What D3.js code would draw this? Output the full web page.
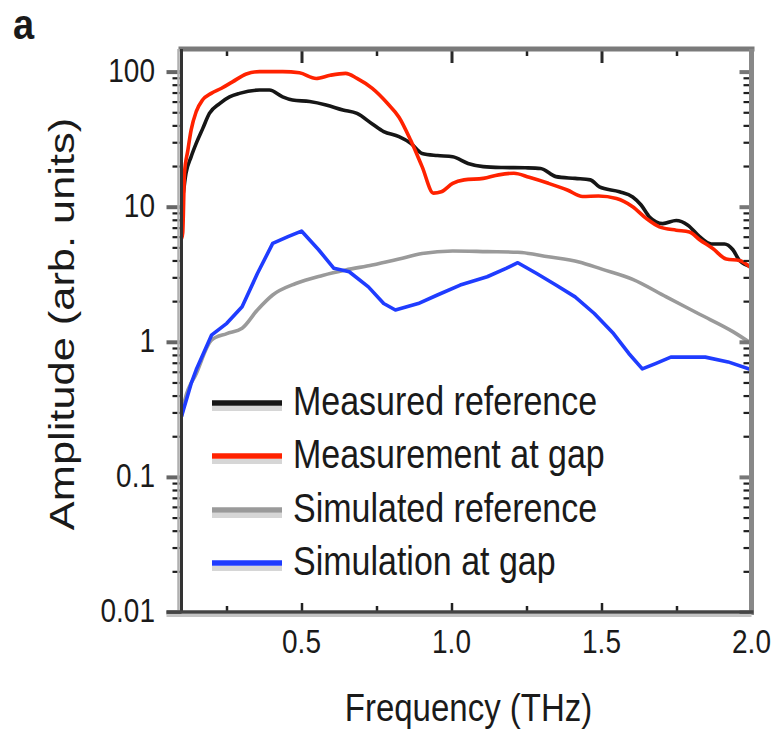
<!DOCTYPE html>
<html>
<head>
<meta charset="utf-8">
<script src="https://cdn.jsdelivr.net/npm/d3@7"></script>
<style>
  html, body { margin: 0; padding: 0; background: #fff; }
  svg { display: block; }
  text { font-family: "Liberation Sans", Arial, sans-serif; fill: #1a1a1a; }
</style>
</head>
<body>
<svg id="chart" width="774" height="734"></svg>
<script>
// Frequency (THz) and amplitude (arb. units) for each spectrum
const freqMeasRef = [0.10, 0.104, 0.115, 0.132, 0.149, 0.171, 0.193, 0.227, 0.26, 0.293, 0.36, 0.393, 0.437, 0.47, 0.527, 0.582, 0.638, 0.685, 0.736, 0.774, 0.825, 0.864, 0.902, 0.953, 1.004, 1.055, 1.106, 1.17, 1.246, 1.297, 1.348, 1.412, 1.463, 1.493, 1.56, 1.604, 1.632, 1.66, 1.704, 1.749, 1.788, 1.827, 1.866, 1.91, 1.938, 1.96, 2.0];
const ampMeasRef  = [10.5, 11.8, 17.7, 23.4, 29.4, 38, 49, 58, 65, 69, 73, 73, 65, 61.6, 60, 56.6, 52, 49, 41, 36, 33, 29.5, 24.8, 23.9, 23.4, 20.9, 19.8, 19.5, 19.4, 19.2, 16.7, 16.2, 15.8, 14, 12.9, 11.8, 10.3, 8.4, 7.5, 7.9, 7.3, 6.0, 5.3, 5.3, 4.8, 4.0, 3.6];

const freqMeasGap = [0.10, 0.104, 0.11, 0.121, 0.132, 0.149, 0.17, 0.199, 0.232, 0.27, 0.316, 0.36, 0.437, 0.493, 0.549, 0.596, 0.647, 0.685, 0.736, 0.787, 0.825, 0.864, 0.902, 0.94, 0.966, 1.004, 1.042, 1.106, 1.157, 1.208, 1.259, 1.323, 1.386, 1.437, 1.49, 1.55, 1.604, 1.649, 1.693, 1.749, 1.793, 1.827, 1.871, 1.916, 1.96, 2.0];
const ampMeasGap  = [5.8, 6.4, 17.7, 26, 36.9, 50.5, 61.6, 69, 75, 84, 96, 100, 100, 98, 89, 94, 97, 89, 75, 58, 46, 31, 19.8, 12.6, 12.9, 14.9, 15.8, 16.2, 17.2, 17.7, 16.5, 14.9, 13.3, 11.9, 12.0, 11.5, 10, 8.2, 7.1, 6.7, 6.5, 5.7, 4.9, 4.1, 4.0, 3.5];

const freqSimRef = [0.10, 0.111, 0.149, 0.2, 0.251, 0.302, 0.353, 0.404, 0.481, 0.57, 0.647, 0.736, 0.825, 0.902, 1.004, 1.119, 1.221, 1.323, 1.425, 1.501, 1.604, 1.716, 1.827, 1.938, 2.0];
const ampSimRef  = [0.28, 0.37, 0.58, 1.03, 1.15, 1.26, 1.72, 2.22, 2.7, 3.1, 3.4, 3.7, 4.1, 4.5, 4.7, 4.65, 4.6, 4.26, 3.9, 3.45, 2.9, 2.15, 1.6, 1.19, 0.97];

const freqSimGap = [0.10, 0.132, 0.149, 0.2, 0.251, 0.302, 0.353, 0.404, 0.455, 0.5, 0.557, 0.608, 0.659, 0.723, 0.774, 0.813, 0.889, 0.953, 1.029, 1.119, 1.182, 1.221, 1.284, 1.348, 1.412, 1.476, 1.54, 1.591, 1.636, 1.68, 1.731, 1.846, 1.922, 2.0];
const ampSimGap  = [0.28, 0.49, 0.62, 1.12, 1.37, 1.82, 3.2, 5.35, 6.0, 6.6, 4.8, 3.5, 3.3, 2.55, 1.92, 1.72, 1.92, 2.22, 2.63, 3.03, 3.5, 3.85, 3.2, 2.63, 2.15, 1.62, 1.15, 0.82, 0.63, 0.69, 0.77, 0.77, 0.71, 0.62];

const seriesNames  = ["Measured reference", "Measurement at gap", "Simulated reference", "Simulation at gap"];
const seriesColors = ["#161616", "#ff2200", "#9a9a9a", "#1f3cff"];

const xTickValues = [0.5, 1.0, 1.5, 2.0];
const xTickLabels = ["0.5", "1.0", "1.5", "2.0"];
const xMinorTicks = [0.25, 0.75, 1.25, 1.75];
const yTickValues = [100, 10, 1, 0.1, 0.01];
const yTickLabels = ["100", "10", "1", "0.1", "0.01"];

// ---------------------------------------------------------------
const svg = d3.select("#chart");
const plotLeft = 181.5, plotRight = 751.5, plotTop = 49, plotBottom = 612;
const SY = 1.18; // vertical stretch of lettering

const x = d3.scaleLinear().domain([0.1, 2.0]).range([plotLeft, plotRight]);
const y = d3.scaleLog().domain([0.01, 147]).range([plotBottom, plotTop]);

const yMinor = [];
for (let e = -2; e < 2; e++) for (let k = 2; k <= 9; k++) yMinor.push(k * Math.pow(10, e));

function stretchedText(px, py, str, size, anchor, sy) {
  const g = svg.append("g").attr("transform", `translate(${px},${py}) scale(1,${sy || SY})`);
  return g.append("text").attr("text-anchor", anchor).style("font-size", size + "px").text(str);
}

// clip for the curves
svg.append("defs").append("clipPath").attr("id", "plotclip")
  .append("rect").attr("x", plotLeft).attr("y", plotTop)
  .attr("width", plotRight - plotLeft).attr("height", plotBottom - plotTop);

// curves: simulated first, measured on top
const order = [2, 3, 0, 1];
const freqs = [freqMeasRef, freqMeasGap, freqSimRef, freqSimGap];
const amps  = [ampMeasRef, ampMeasGap, ampSimRef, ampSimGap];
const curves = [d3.curveMonotoneX, d3.curveMonotoneX, d3.curveMonotoneX, d3.curveLinear];
const plot = svg.append("g").attr("clip-path", "url(#plotclip)");
order.forEach(i => {
  const pts = freqs[i].map((f, j) => [f, amps[i][j]]);
  plot.append("path")
    .attr("d", d3.line().x(d => x(d[0])).y(d => y(d[1])).curve(curves[i])(pts))
    .attr("fill", "none")
    .attr("stroke", seriesColors[i])
    .attr("stroke-width", 3.6)
    .attr("stroke-linejoin", "round");
});

// ticks via d3 axes
function styleAxis(g, color, width) {
  g.select(".domain").remove();
  g.selectAll(".tick line").attr("stroke", color).attr("stroke-width", width);
  g.selectAll(".tick text").remove();
}
// left: outward
svg.append("g").attr("transform", `translate(${plotLeft},0)`)
  .call(d3.axisLeft(y).tickValues(yMinor).tickSize(9).tickFormat(""))
  .call(g => styleAxis(g, "#1e1e1e", 2.2));
svg.append("g").attr("transform", `translate(${plotLeft},0)`)
  .call(d3.axisLeft(y).tickValues(yTickValues).tickSize(15).tickFormat(""))
  .call(g => styleAxis(g, "#666", 4));
// right: inward
svg.append("g").attr("transform", `translate(${plotRight},0)`)
  .call(d3.axisLeft(y).tickValues(yMinor).tickSize(8).tickFormat(""))
  .call(g => styleAxis(g, "#1e1e1e", 2.2));
svg.append("g").attr("transform", `translate(${plotRight},0)`)
  .call(d3.axisLeft(y).tickValues(yTickValues).tickSize(12).tickFormat(""))
  .call(g => styleAxis(g, "#777", 4));
// top: inward
svg.append("g").attr("transform", `translate(0,${plotTop})`)
  .call(d3.axisBottom(x).tickValues(xMinorTicks).tickSize(7).tickFormat(""))
  .call(g => styleAxis(g, "#222", 2.5));
svg.append("g").attr("transform", `translate(0,${plotTop})`)
  .call(d3.axisBottom(x).tickValues(xTickValues.slice(0, 3)).tickSize(14).tickFormat(""))
  .call(g => styleAxis(g, "#2a2a2a", 3));
// bottom: inward
svg.append("g").attr("transform", `translate(0,${plotBottom})`)
  .call(d3.axisTop(x).tickValues(xMinorTicks).tickSize(6).tickFormat(""))
  .call(g => styleAxis(g, "#222", 2.5));
svg.append("g").attr("transform", `translate(0,${plotBottom})`)
  .call(d3.axisTop(x).tickValues(xTickValues.slice(0, 3)).tickSize(9).tickFormat(""))
  .call(g => styleAxis(g, "#222", 2.5));

// frame
const frame = svg.append("g");
frame.append("line").attr("x1", plotLeft - 3).attr("x2", plotRight + 3).attr("y1", plotTop).attr("y2", plotTop)
  .attr("stroke", "#7a7a7a").attr("stroke-width", 5);
frame.append("line").attr("x1", plotRight).attr("x2", plotRight).attr("y1", plotTop).attr("y2", plotBottom + 3)
  .attr("stroke", "#888").attr("stroke-width", 5);
frame.append("line").attr("x1", plotLeft - 3).attr("x2", plotLeft - 3).attr("y1", plotTop).attr("y2", plotBottom)
  .attr("stroke", "#b0b0b0").attr("stroke-width", 2.5);
frame.append("line").attr("x1", plotLeft).attr("x2", plotLeft).attr("y1", plotTop).attr("y2", plotBottom)
  .attr("stroke", "#333").attr("stroke-width", 3);
frame.append("line").attr("x1", plotLeft - 15).attr("x2", plotRight).attr("y1", plotBottom + 3.5).attr("y2", plotBottom + 3.5)
  .attr("stroke", "#c4c4c4").attr("stroke-width", 3);
frame.append("line").attr("x1", plotLeft - 15).attr("x2", plotRight + 2).attr("y1", plotBottom).attr("y2", plotBottom)
  .attr("stroke", "#444").attr("stroke-width", 3.5);

// tick labels
yTickValues.forEach((v, i) => {
  stretchedText(155, y(v) + 10, yTickLabels[i], 28, "end");
});
xTickValues.forEach((v, i) => {
  stretchedText(x(v), 653, xTickLabels[i], 28, "middle");
});

// axis titles
stretchedText((plotLeft + plotRight) / 2 + 2, 721, "Frequency (THz)", 33, "middle");
svg.append("g").attr("transform", `translate(74,324) scale(1,1.24) rotate(-90)`)
  .append("text").attr("text-anchor", "middle").style("font-size", "35px").text("Amplitude (arb. units)");

// panel letter
stretchedText(13, 38.5, "a", 38, "start", 1.1).style("font-weight", "bold");

// legend
const legendBaselines = [415, 468, 522, 575];
seriesNames.forEach((name, i) => {
  const yb = legendBaselines[i];
  const yl = yb - 12;
  svg.append("line").attr("x1", 212).attr("x2", 282).attr("y1", yl + 5.5).attr("y2", yl + 5.5)
    .attr("stroke", "#d6d6d6").attr("stroke-width", 5);
  svg.append("line").attr("x1", 212).attr("x2", 282).attr("y1", yl).attr("y2", yl)
    .attr("stroke", seriesColors[i]).attr("stroke-width", 5.5);
  stretchedText(293, yb, name, 34, "start");
});
</script>
</body>
</html>
